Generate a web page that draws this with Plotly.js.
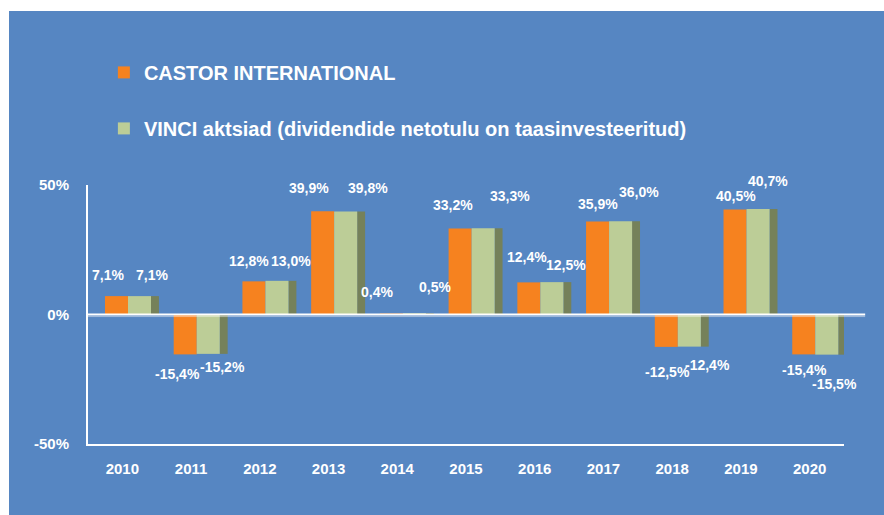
<!DOCTYPE html>
<html>
<head>
<meta charset="utf-8">
<script src="https://cdn.plot.ly/plotly-3.0.1.min.js"></script>
<style>
  html, body { margin: 0; padding: 0; background: #ffffff; width: 884px; height: 515px; overflow: hidden; }
  #chart { position: absolute; left: 9px; top: 11px; width: 875px; height: 504px; }
</style>
</head>
<body>
<div id="chart"></div>
<script>
// ---- data ----
const years = ['2010','2011','2012','2013','2014','2015','2016','2017','2018','2019','2020'];
const castorValues = [7.1, -15.4, 12.8, 39.9, 0.4, 33.2, 12.4, 35.9, -12.5, 40.5, -15.4];
const vinciValues  = [7.1, -15.2, 13.0, 39.8, 0.5, 33.3, 12.5, 36.0, -12.4, 40.7, -15.5];
const castorName = 'CASTOR INTERNATIONAL';
const vinciName = 'VINCI aktsiad (dividendide netotulu on taasinvesteeritud)';
const yTickValues = [-50, 0, 50];
const yTickLabels = ['-50%', '0%', '50%'];

// ---- label placement (pixel shifts from each bar's category/value point) ----
const castorLabelShift = [[-14,-21],[-14,20],[-11,-20],[-20,-23],[-20,-21],[-13,-24],[-8,-25],[-5,-18],[-5,25],[-5,-14],[-5,16]];
const vinciLabelShift  = [[30,-21],[31,13],[31,-20],[39,-23],[38,-26],[44,-32],[31,-17],[36,-29],[35,18],[27,-28],[25,29]];

const fmt = v => v.toFixed(1).replace('.', ',') + '%';

const ORANGE = '#F6821F';
const GREEN = '#BCCD97';
const SHADOW = '#75815A';
const BLUE = '#5686C2';
const FONT = 'Liberation Sans, Arial, sans-serif';

const traces = [
  { type: 'bar', x: years, y: vinciValues, name: 'shadow', showlegend: false,
    marker: { color: SHADOW }, offset: 0.416, width: 0.116, hoverinfo: 'skip' },
  { type: 'bar', x: years, y: castorValues, name: castorName, legendgroup: 'a',
    marker: { color: ORANGE }, offset: -0.253, width: 0.335 },
  { type: 'bar', x: years, y: vinciValues, name: vinciName, legendgroup: 'b',
    marker: { color: GREEN }, offset: 0.082, width: 0.335 }
];

const annotations = [];
years.forEach((yr, i) => {
  annotations.push({ x: i, y: castorValues[i], xref: 'x', yref: 'y', text: '<b>' + fmt(castorValues[i]) + '</b>',
    showarrow: false, xanchor: 'center', yanchor: 'middle',
    xshift: castorLabelShift[i][0], yshift: -castorLabelShift[i][1],
    font: { family: FONT, size: 14, color: '#ffffff' } });
  annotations.push({ x: i, y: vinciValues[i], xref: 'x', yref: 'y', text: '<b>' + fmt(vinciValues[i]) + '</b>',
    showarrow: false, xanchor: 'center', yanchor: 'middle',
    xshift: vinciLabelShift[i][0], yshift: -vinciLabelShift[i][1],
    font: { family: FONT, size: 14, color: '#ffffff' } });
});

const layout = {
  width: 875, height: 504,
  paper_bgcolor: BLUE, plot_bgcolor: BLUE,
  margin: { l: 79, r: 40, t: 174, b: 71, pad: 0 },
  barmode: 'overlay',
  hovermode: false,
  font: { family: FONT, color: '#ffffff' },
  showlegend: true,
  legend: {
    x: 0.021, xanchor: 'left', y: 1.51, yanchor: 'top',
    bgcolor: 'rgba(0,0,0,0)', borderwidth: 0,
    font: { family: FONT, size: 20, color: '#ffffff', weight: 'bold' },
    traceorder: 'grouped', tracegroupgap: 27
  },
  xaxis: {
    type: 'category', categoryorder: 'array', categoryarray: years,
    range: [-0.5, 10.5],
    showline: true, linecolor: '#ffffff', linewidth: 2,
    showgrid: false, zeroline: false, ticks: '',
    ticklabelstandoff: 10,
    tickfont: { family: FONT, size: 15, color: '#ffffff', weight: 'bold' },
    fixedrange: true
  },
  yaxis: {
    range: [-50, 50],
    tickvals: yTickValues, ticktext: yTickLabels,
    showline: true, linecolor: '#ffffff', linewidth: 2,
    showgrid: false, zeroline: false, ticks: '',
    ticklabelstandoff: 14,
    tickfont: { family: FONT, size: 15, color: '#ffffff', weight: 'bold' },
    fixedrange: true
  },
  shapes: [
    { type: 'line', xref: 'paper', yref: 'y', x0: 0, x1: 1.028, y0: 0, y1: 0,
      line: { color: '#ffffff', width: 2 }, layer: 'above' },
    { type: 'line', xref: 'paper', yref: 'y', x0: 0, x1: 1.028, y0: -0.8, y1: -0.8,
      line: { color: 'rgba(255,255,255,0.45)', width: 1 }, layer: 'above' }
  ],
  annotations: annotations
};

Plotly.newPlot('chart', traces, layout, { displayModeBar: false, staticPlot: true });
</script>
</body>
</html>
